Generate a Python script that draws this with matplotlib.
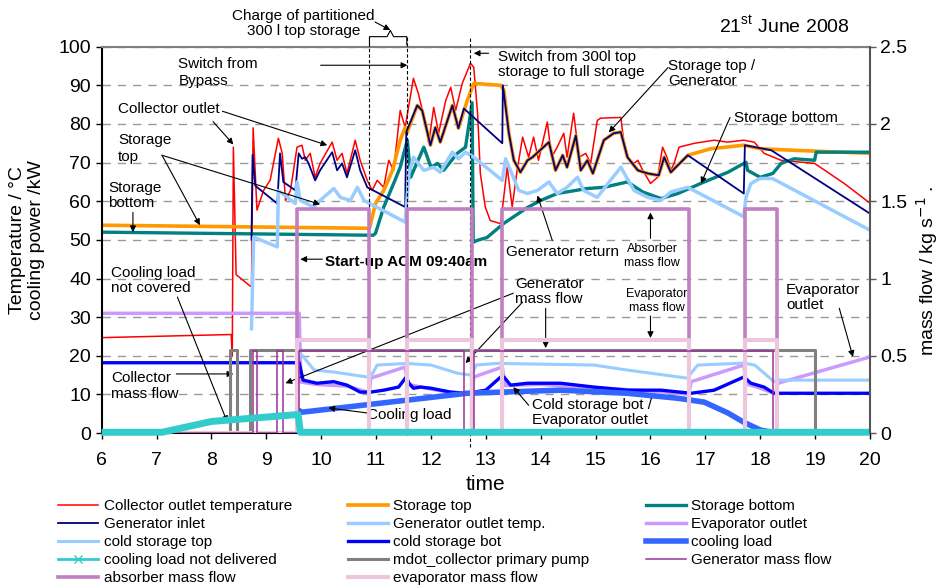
import matplotlib
matplotlib.use("Agg")
import matplotlib.pyplot as plt
from matplotlib.lines import Line2D

plt.rcParams['font.family'] = ['Liberation Sans', 'DejaVu Sans']

# ---- data (time in hours) ----
coll_t = [6, 8.36, 8.38, 8.40, 8.45, 8.71, 8.73, 8.76, 8.83, 8.95, 9.07, 9.22, 9.29, 9.35, 9.44,
          9.56, 9.65, 9.71, 9.80, 9.89, 9.98, 10.2, 10.29, 10.38, 10.47, 10.62, 10.71, 10.84,
          10.93, 11.02, 11.14, 11.23, 11.32, 11.44, 11.53, 11.68, 11.77, 11.90, 11.96, 12.05,
          12.14, 12.27, 12.36, 12.45, 12.57, 12.72, 12.78, 12.85, 12.90, 12.99, 13.08, 13.27,
          13.39, 13.48, 13.57, 13.67, 13.78, 13.87, 13.96, 14.12, 14.2, 14.3, 14.42, 14.48,
          14.6, 14.7, 14.82, 14.91, 15.03, 15.09, 15.46, 15.51, 15.61, 15.7, 15.77, 15.86, 16.0,
          16.13, 16.22, 16.3, 16.37, 16.43, 16.52, 16.8, 17.16, 17.4, 17.7, 17.89, 18.07, 18.38,
          18.99, 19.53, 20]
coll_v = [24.7, 25.5, 20, 74, 41, 38, 38, 79, 57.7, 62.8, 65.4, 76.3, 72.4, 60.2, 62.8,
          74, 74.5, 70.6, 72.4, 66.2, 69.8, 75.3, 70.6, 72.4, 67.2, 75.8, 70.6, 65.4,
          62.8, 65.4, 63.6, 70.6, 68, 83.5, 79.1, 91.8, 87.9, 80.2, 75, 84.3,
          77.6, 86.1, 89.5, 83.5, 90.5, 95.7, 94.7, 82.7, 67.2, 58.5, 55, 54.2,
          68.8, 58.5, 68, 76.6, 71.4, 76.6, 70.6, 80.5, 71.4, 74, 77.6, 71.4,
          82.8, 71.4, 72.4, 69.8, 80.9, 81.5, 81.7, 75.8, 70.6, 69.8, 70.6, 68, 64.6,
          66.2, 74, 71.4, 68, 69.8, 74, 75, 75.8, 75.3, 75.8, 75.3, 72.4, 70.6,
          69.8, 64.6, 59.5]

stor_top_t = [6, 10.88, 10.99, 11.14, 11.3, 11.44, 11.53, 11.57, 11.75, 11.84, 11.99, 12.08,
              12.17, 12.39, 12.5, 12.66, 12.78, 13.27, 13.33, 13.42, 13.51, 13.63, 13.76, 13.85,
              14.15, 14.27, 14.4, 14.48, 14.64, 14.73, 14.85, 14.95, 15.15, 15.33, 15.46, 15.58,
              15.77, 15.95, 16.15, 16.25, 16.37, 16.68, 17.1, 17.7, 18.0, 18.6, 20]
stor_top_v = [53.8, 53, 59.4, 62.8, 68, 75.8, 79.1, 77.9, 84.8, 83.5, 74.5, 79.1,
              75.3, 84.8, 78.9, 86, 90.5, 90, 88.7, 77.6, 70.6, 67.5, 70.6, 71.4,
              75.3, 68, 71.9, 68.8, 77, 68, 70.6, 67.2, 75.8, 77.6, 77.9, 71.4,
              68, 67.2, 66.7, 71.4, 67.5, 71.9, 73.6, 74.5, 73.6, 73.2, 72.4]

stor_bot_t = [6, 10.95, 10.99, 11.14, 11.32, 11.44, 11.57, 11.63, 11.87, 12.0, 12.12, 12.23,
              12.48, 12.63, 12.75, 12.77, 12.85, 13.02, 13.33, 13.76, 14.0, 14.3, 14.85, 15.15,
              15.58, 15.86, 16.19, 16.5, 16.98, 17.41, 17.74, 17.77, 18.0, 18.23, 18.38, 18.62,
              18.99, 19.02, 20]
stor_bot_v = [52, 51.2, 51.7, 58.5, 64.6, 68.8, 75.8, 66.2, 74, 68.8, 69.8, 68,
              72.4, 74, 85.5, 49.4, 49.9, 50.6, 54.3, 58.4, 60.2, 62, 63.3, 63.6,
              65, 62.4, 60.7, 62, 65, 67.5, 70.1, 68, 66.2, 67.2, 69.8, 71,
              70.6, 72.7, 72.7]

gen_in_t = [8.73, 8.75, 8.8, 9.2, 9.25, 9.31, 9.53, 9.59, 9.65, 9.71, 9.77, 9.89, 9.98, 10.2,
            10.29, 10.38, 10.47, 10.62, 10.71, 10.84, 11.53, 11.55, 11.75, 11.84, 11.99, 12.08,
            12.17, 12.39, 12.5, 12.6, 13.3, 13.31, 13.42, 13.51, 13.63, 13.76, 13.85, 14.15,
            14.27, 14.4, 14.48, 14.64, 14.73, 14.85, 14.95, 15.15, 15.33, 15.46, 15.58, 15.77,
            15.95, 16.15, 16.25, 16.37, 16.68, 17.7, 17.72, 18.2, 20]
gen_in_v = [50, 72, 64, 59.4, 72.4, 65, 62.8, 72.4, 71, 71.4, 69.8, 65.4, 68, 72.7,
            68, 69.8, 66.2, 73.2, 68, 63.6, 58.5, 77.9, 84.8, 83.5, 74.5, 79.1,
            75.3, 84.8, 78.9, 84, 75, 90, 77.6, 70.6, 67.5, 70.6, 71.4, 75.3,
            68, 71.9, 68.8, 77, 68, 70.6, 67.2, 75.8, 77.6, 77.9, 71.4, 68,
            67.2, 66.7, 71.4, 67.5, 71.9, 62, 74.5, 73.2, 56.8]

gen_out_t = [8.73, 8.77, 9.2, 9.22, 9.53, 9.56, 9.62, 9.86, 9.98, 10.23, 10.35, 10.53, 10.66,
             10.78, 11.53, 11.6, 11.68, 11.87, 12.05, 12.17, 12.39, 12.5, 12.63, 12.78, 13.3,
             13.36, 13.6, 13.76, 13.94, 14.15, 14.3, 14.48, 14.67, 14.78, 15.03, 15.27, 15.46,
             15.7, 15.95, 16.19, 16.37, 16.68, 17.7, 17.74, 17.83, 18.0, 18.22, 20]
gen_out_v = [27, 50.7, 48.2, 62.8, 59.4, 65, 60.2, 58.5, 60.2, 63.3, 61, 60.2, 63.6,
             60.2, 54.6, 67.2, 71.4, 68, 68.8, 67.5, 72.7, 71, 72.7, 71.4, 65.4,
             71, 62.8, 62, 62.8, 65, 62, 63.6, 66.2, 62.8, 61, 65.4, 68.8,
             62.8, 61, 60.2, 62.4, 63.6, 56, 61, 64.6, 65.9, 65.9, 52.5]

evap_out_t = [6, 9.6, 9.63, 9.9, 10.5, 10.88, 10.9, 11.53, 11.58, 12.0, 12.5, 12.75, 12.78,
              13.3, 13.35, 14.0, 15.0, 16.0, 16.7, 16.74, 17.7, 17.75, 18.0, 18.28, 18.32, 20]
evap_out_v = [31, 31, 13.2, 12.6, 12.1, 10.4, 14.2, 17.1, 12.6, 11.4, 10.2, 10.2, 14.5,
              17.1, 12.3, 12.6, 11.7, 10.9, 10.1, 13.3, 17.6, 12.7, 11.6, 10.1, 12.9, 19.7]

cold_top_t = [9.6, 9.65, 9.87, 10.23, 10.84, 10.9, 11.02, 11.53, 11.58, 12.0, 12.48, 12.72,
              12.76, 12.82, 13.27, 13.33, 14.97, 15.58, 16.68, 16.74, 16.86, 17.7, 17.9, 18.25,
              18.3, 20]
cold_top_v = [20.5, 20.2, 16.3, 15.8, 14.5, 14.5, 17.6, 18.0, 18.0, 17.6, 15.5, 15.0,
              15.5, 17.6, 18.1, 18.0, 17.6, 16.3, 14.2, 15.5, 17.6, 18.1, 17.6, 13.3,
              13.7, 13.7]

cold_bot_t = [6, 9.6, 9.67, 9.92, 10.23, 10.47, 10.71, 10.9, 11.14, 11.41, 11.55, 11.6, 11.68,
              11.81, 12.0, 12.36, 12.66, 13.0, 13.27, 13.33, 13.45, 13.76, 14.36, 14.97, 15.58,
              16.19, 16.74, 17.16, 17.7, 17.83, 18.07, 18.25, 20]
cold_bot_v = [18.2, 18.2, 13.7, 12.9, 13.3, 12.4, 10.6, 10.6, 11.1, 11.9, 14.5, 12.9, 11.6,
              11.9, 11.6, 10.6, 10.3, 11.1, 14.5, 14.5, 12.4, 12.9, 12.9, 11.9, 11.1,
              11.1, 10.3, 11.1, 14.5, 12.9, 11.9, 10.3, 10.3]

cool_load_t = [9.6, 9.65, 12.66, 14.36, 15.58, 16.5, 16.98, 17.41, 17.7, 18.0, 18.25]
cool_load_v = [5.8, 5.4, 10.3, 11.1, 10.3, 9.0, 8.0, 5.2, 2.8, 0.8, 0.1]

not_deliv_t = [6, 7.1, 8.0, 9.58, 9.62, 20]
not_deliv_v = [0.2, 0.2, 3.0, 4.8, 0.2, 0.2]

# mass flows (right axis, kg/s) as step series
pump_t = [6, 8.33, 8.46, 8.71, 19.0, 20]
pump_v = [0, 0.535, 0, 0.535, 0, 0]
genmf_t = [6, 8.75, 8.83, 9.19, 9.31, 9.6, 12.6, 12.78, 18.23, 20]
genmf_v = [0, 0.53, 0, 0.53, 0, 0.53, 0, 0.53, 0, 0]
absmf_t = [6, 9.56, 10.88, 11.56, 12.75, 13.3, 16.7, 17.72, 18.3, 20]
absmf_v = [0, 1.45, 0, 1.45, 0, 1.45, 0, 1.45, 0, 0]
evapmf_t = [6, 9.56, 10.88, 11.56, 12.75, 13.3, 16.7, 17.72, 18.3, 20]
evapmf_v = [0, 0.6, 0, 0.6, 0, 0.6, 0, 0.6, 0, 0]

events = [10.88, 11.56, 12.72]
hours = list(range(6, 21))

fig = plt.figure(figsize=(9.43, 5.86), dpi=100)
ax = fig.add_axes([0.1078, 0.261, 0.8148, 0.6593])
ax2 = ax.twinx()

l1, = ax.plot(coll_t, coll_v, color='#ff0000', lw=1.1, label='Collector outlet temperature')
l2, = ax.plot(stor_top_t, stor_top_v, color='#ff9900', lw=2.6, label='Storage top')
l3, = ax.plot(stor_bot_t, stor_bot_v, color='#008080', lw=2.4, label='Storage bottom')
l4, = ax.plot(gen_in_t, gen_in_v, color='#000080', lw=1.3, label='Generator inlet')
l5, = ax.plot(gen_out_t, gen_out_v, color='#99ccff', lw=2.5, label='Generator outlet temp.')
l6, = ax.plot(evap_out_t, evap_out_v, color='#cc99ff', lw=2.5, label='Evaporator outlet')
l7, = ax.plot(cold_top_t, cold_top_v, color='#99ccff', lw=2.2, label='cold storage top')
l8, = ax.plot(cold_bot_t, cold_bot_v, color='#0000ff', lw=2.4, label='cold storage bot')
l9, = ax.plot(cool_load_t, cool_load_v, color='#3366ff', lw=4, label='cooling load')
l10 = Line2D([], [], color='#33cccc', lw=2, marker='x', markersize=6, label='cooling load not delivered')

l11, = ax2.plot(pump_t, pump_v, color='#808080', lw=2.2, drawstyle='steps-post',
                label='mdot_collector primary pump')
l13, = ax2.plot(absmf_t, absmf_v, color='#c080c0', lw=2.6, drawstyle='steps-post',
                label='absorber mass flow')
l14, = ax2.plot(evapmf_t, evapmf_v, color='#ecc6dc', lw=3, drawstyle='steps-post',
                label='evaporator mass flow')
l12, = ax2.plot(genmf_t, genmf_v, color='#993399', lw=1.1, drawstyle='steps-post',
                label='Generator mass flow')
# cooling load not delivered sits on top of the mass-flow traces, in left-axis units
ax2.plot(not_deliv_t, not_deliv_v, color='#33cccc', lw=5, solid_capstyle='butt',
         clip_on=False, transform=ax.transData)

# axes styling
ax.set_xlim(6, 20)
ax.set_ylim(0, 100)
ax2.set_ylim(0, 2.5)
ax.set_xticks(hours)
ax.set_yticks(range(0, 101, 10))
ax2.set_yticks([0, 0.5, 1, 1.5, 2, 2.5])
ax2.set_yticklabels(['0', '0.5', '1', '1.5', '2', '2.5'])
ax.tick_params(labelsize=14, direction='out', length=4, width=1)
ax.tick_params(axis='x', pad=10)
ax2.tick_params(labelsize=14, direction='out', length=4, width=1, color='#555555')
ax.grid(axis='y', color='#999999', linestyle=(0, (6, 5)), lw=1)
ax.set_axisbelow(True)
for s in ['left', 'bottom']:
    ax.spines[s].set_linewidth(1.5)
ax.spines['top'].set_color('#808080')
ax.spines['top'].set_linewidth(1.5)
ax.spines['right'].set_visible(False)
ax2.spines['left'].set_visible(False)
ax2.spines['bottom'].set_visible(False)
ax2.spines['top'].set_visible(False)
ax2.spines['right'].set_color('#555555')
ax2.spines['right'].set_linewidth(1.5)

ax.set_xlabel('time', fontsize=15, labelpad=4)
ax.set_ylabel('Temperature / °C\ncooling power /kW', fontsize=14, labelpad=10, linespacing=1.1)
ax2.set_ylabel('mass flow / kg s$^{-1}$ .', fontsize=14, labelpad=12)
ax2.yaxis.set_label_coords(1.057, 0.42)

# event markers and brace
for e in events:
    ax.plot([e, e], [-3.5 if e > 12 else -0.5, 102.7], color='k', lw=0.8,
            linestyle=(0, (3, 2)), clip_on=False, zorder=5)
ax.plot([10.88, 10.88, 11.2, 11.26, 11.32, 11.56, 11.56],
        [100.5, 102.6, 102.6, 104.2, 102.6, 102.6, 100.5], color='k', lw=0.8, clip_on=False)

arrow = dict(arrowstyle='-|>', color='k', lw=0.8, mutation_scale=9, shrinkA=0, shrinkB=0)
fs = 11


def note(x, y, x0, y0):
    ax.annotate('', xy=(x, y), xytext=(x0, y0), arrowprops=arrow, annotation_clip=False)


ax.text(9.68, 106, 'Charge of partitioned\n300 l top storage', fontsize=fs, ha='center',
        va='center', linespacing=1.1)
note(11.26, 104.3, 10.98, 106.4)
ax.text(7.4, 93.4, 'Switch from\nBypass', fontsize=fs, va='center', linespacing=1.25)
note(11.57, 95.2, 9.99, 95.2)
ax.text(6.3, 84, 'Collector outlet', fontsize=fs, va='center')
note(8.4, 74.7, 8.03, 80.6)
note(10.11, 74.5, 8.2, 83.3)
ax.text(6.3, 73.7, 'Storage\ntop', fontsize=fs, va='center', linespacing=1.25)
note(9.98, 59.2, 7.1, 71.9)
note(7.79, 53.8, 7.1, 71.9)
ax.text(6.12, 61.5, 'Storage\nbottom', fontsize=fs, va='center', linespacing=1.1)
note(6.57, 52, 6.57, 57.1)
ax.text(10.07, 44.2, 'Start-up ACM 09:40am', fontsize=fs, va='center', fontweight='bold')
note(9.62, 45, 10.02, 45)
ax.text(6.17, 39.6, 'Cooling load\nnot covered', fontsize=fs, va='center', linespacing=1.1)
note(8.29, 2.8, 7.38, 35.2)
ax.text(6.17, 12.2, 'Collector\nmass flow', fontsize=fs, va='center', linespacing=1.25)
note(8.4, 15.3, 7.36, 15.3)
ax.text(10.84, 4.7, 'Cooling load', fontsize=fs, va='center')
note(10.13, 6.5, 10.84, 5.2)
ax.text(13.54, 36.7, 'Generator\nmass flow', fontsize=fs, va='center', linespacing=1.1)
note(9.35, 12.9, 13.5, 36.2)
note(12.63, 18.1, 13.67, 33.9)
note(14.09, 22, 14.09, 32.3)
ax.text(13.36, 46.8, 'Generator return', fontsize=fs, va='center')
note(13.94, 61.5, 14.21, 49.9)
ax.text(16.03, 45.8, 'Absorber\nmass flow', fontsize=9, va='center', ha='center', linespacing=1.2)
note(16.0, 57.1, 16.0, 50.4)
ax.text(16.12, 34.1, 'Evaporator\nmass flow', fontsize=9, va='center', ha='center', linespacing=1.2)
note(16.0, 24.6, 16.0, 30.3)
ax.text(13.85, 5.4, 'Cold storage bot /\nEvaporator outlet', fontsize=fs, va='center',
        linespacing=1.1)
note(13.5, 11.9, 13.78, 7.2)
ax.text(18.47, 35.2, 'Evaporator\noutlet', fontsize=fs, va='center', linespacing=1.1)
note(19.69, 19.7, 19.44, 32.3)
ax.text(13.23, 95.4, 'Switch from 300l top\nstorage to full storage', fontsize=fs, va='center',
        linespacing=1.1)
note(12.78, 98.3, 13.05, 98.3)
ax.text(16.32, 93.1, 'Storage top /\nGenerator', fontsize=fs, va='center', linespacing=1.1)
note(15.24, 77.8, 16.32, 94.6)
ax.text(17.52, 81.5, 'Storage bottom', fontsize=fs, va='center')
note(16.92, 64.6, 17.45, 81.7)
ax.text(18.44, 105.5, '21$^{\\mathregular{st}}$ June 2008', fontsize=14, ha='center', va='center')

# legend, filled row by row
handles = [l1, l2, l3, l4, l5, l6, l7, l8, l9, l10, l11, l12, l13, l14]
order = [0, 3, 6, 9, 12, 1, 4, 7, 10, 13, 2, 5, 8, 11]
hs = [handles[i] for i in order]
fig.legend(hs, [h.get_label() for h in hs], ncol=3, loc='upper left',
           bbox_to_anchor=(0.062, 0.148), frameon=False, fontsize=11, handlelength=2.6,
           handletextpad=0.35, columnspacing=3.7, labelspacing=0.265, borderpad=0,
           borderaxespad=0)

fig.savefig('out.png', dpi=100)
